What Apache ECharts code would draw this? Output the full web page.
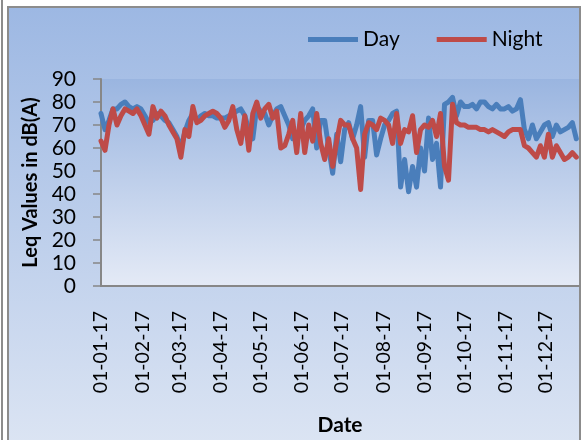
<!DOCTYPE html>
<html>
<head>
<meta charset="utf-8">
<script src="https://cdn.jsdelivr.net/npm/echarts@6/dist/echarts.min.js"></script>
<style>
  html, body { margin: 0; padding: 0; background: #fff; }
  #edge { position: absolute; left: 1px; top: 0; width: 2px; height: 440px; background: #8c8c8c; }
  #frame {
    position: absolute; left: 7px; top: 6px; width: 570px; height: 434px;
    border: 2px solid #8c8c8c; border-bottom: none;
    background: linear-gradient(#9db8e3, #dbe4f3);
  }
  #chart { position: absolute; left: 0; top: 0; width: 586px; height: 440px; }
</style>
</head>
<body>
<div id="edge"></div>
<div id="frame"></div>
<div id="chart"></div>
<script>
// month starts, counted in days from 01-01-17
var tickDays = [0, 31, 59, 90, 120, 151, 181, 212, 243, 273, 304, 334]
var tickLabels = ['01-01-17', '01-02-17', '01-03-17', '01-04-17', '01-05-17', '01-06-17',
  '01-07-17', '01-08-17', '01-09-17', '01-10-17', '01-11-17', '01-12-17']

// one reading every 3 days
var dayStep = 3

var dayValues = [
  75, 68, 72, 77, 77, 79, 80, 78, 77, 78, 77, 74, 71, 72, 75, 74, 72, 71, 68, 65,
  60, 67, 72, 75, 72, 74, 75, 74, 74, 73, 73, 73, 74, 75, 76, 77, 74, 68, 64, 78,
  76, 75, 70, 74, 77, 78, 74, 70, 64, 66, 68, 72, 74, 77, 60, 72, 72, 60, 49, 66,
  54, 68, 71, 64, 70, 78, 56, 72, 72, 57, 64, 70, 72, 75, 76, 43, 55, 41, 52, 43,
  60, 50, 73, 55, 62, 43, 79, 80, 82, 74, 80, 78, 78, 79, 77, 80, 80, 78, 77, 79,
  77, 77, 78, 76, 77, 81, 68, 64, 70, 64, 67, 70, 71, 65, 70, 67, 68, 69, 71, 64
]

var nightValues = [
  63, 59, 70, 77, 70, 74, 77, 76, 75, 77, 74, 70, 66, 78, 73, 76, 74, 70, 67, 64,
  56, 68, 65, 78, 71, 72, 74, 75, 76, 75, 73, 69, 72, 78, 68, 62, 74, 59, 75, 80,
  73, 77, 79, 73, 76, 60, 61, 66, 72, 58, 75, 58, 70, 63, 75, 62, 55, 64, 52, 63,
  72, 70, 70, 64, 60, 42, 66, 71, 70, 68, 73, 72, 70, 62, 75, 62, 68, 67, 74, 58,
  68, 70, 69, 72, 65, 75, 52, 46, 79, 71, 70, 70, 69, 69, 69, 68, 68, 67, 68, 67,
  66, 65, 67, 68, 68, 68, 61, 60, 58, 56, 61, 56, 66, 56, 61, 58, 55, 56, 58, 56
]

var yMin = 0
var yMax = 90
var yStep = 10

function toPoints(values) {
  return values.map(function (v, i) { return [i * dayStep, v] })
}

var font = 'Lato'
var axisGray = '#878787'

var chart = echarts.init(document.getElementById('chart'))
var option = {
  animation: false,
  textStyle: { fontFamily: font },
  legend: {
    left: 303,
    top: 24,
    icon: 'rect',
    itemWidth: 50,
    itemHeight: 5,
    itemGap: 37,
    textStyle: { fontFamily: font, fontSize: 21, color: '#000' },
    data: ['Day', 'Night']
  },
  grid: {
    left: 101,
    top: 79,
    right: 7,
    bottom: 154,
    show: true,
    borderWidth: 0,
    backgroundColor: new echarts.graphic.LinearGradient(0, 0, 0, 1, [
      { offset: 0, color: '#9ab5e0' },
      { offset: 1, color: '#e4eaf6' }
    ])
  },
  xAxis: {
    type: 'value',
    min: 0,
    max: 359,
    name: 'Date',
    nameLocation: 'middle',
    nameGap: 129,
    nameTextStyle: { fontFamily: font, fontSize: 21, fontWeight: 'bold', color: '#000' },
    axisLine: { lineStyle: { color: axisGray, width: 2 } },
    axisTick: { show: false },
    splitLine: { show: false },
    axisLabel: {
      customValues: tickDays,
      rotate: 90,
      margin: 25,
      fontFamily: font,
      fontSize: 19.5,
      color: '#000',
      formatter: function (value) {
        var k = tickDays.indexOf(Math.round(value))
        return k >= 0 ? tickLabels[k] : ''
      }
    }
  },
  yAxis: {
    type: 'value',
    min: yMin,
    max: yMax,
    interval: yStep,
    name: 'Leq Values in dB(A)',
    nameLocation: 'middle',
    nameGap: 60,
    nameTextStyle: { fontFamily: font, fontSize: 20, fontWeight: 'bold', color: '#000' },
    axisLine: { show: true, lineStyle: { color: axisGray, width: 2 } },
    axisTick: { show: true, length: 8, lineStyle: { color: axisGray, width: 1.5 } },
    splitLine: { show: false },
    axisLabel: { margin: 25, fontFamily: font, fontSize: 21, color: '#000' }
  },
  series: [
    {
      name: 'Day',
      type: 'line',
      showSymbol: false,
      data: toPoints(dayValues),
      itemStyle: { color: '#4a7ebb' },
      lineStyle: { color: '#4a7ebb', width: 5, cap: 'round', join: 'round' }
    },
    {
      name: 'Night',
      type: 'line',
      showSymbol: false,
      data: toPoints(nightValues),
      itemStyle: { color: '#be4b48' },
      lineStyle: { color: '#be4b48', width: 5, cap: 'round', join: 'round' }
    }
  ]
}
chart.setOption(option)
</script>
</body>
</html>
